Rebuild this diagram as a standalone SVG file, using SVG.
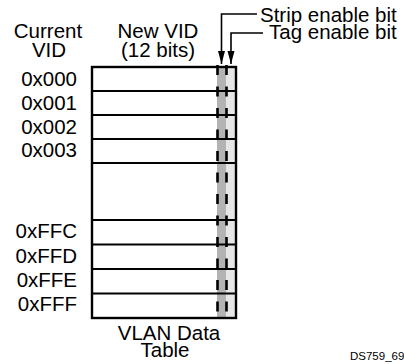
<svg xmlns="http://www.w3.org/2000/svg" width="404" height="364" viewBox="0 0 404 364">
<defs>
<style>
text{font-family:"Liberation Sans",Arial,sans-serif;font-size:20.5px;fill:#000}
.lbl{text-anchor:end}
.mid{text-anchor:middle}
.conn{fill:none;stroke:#000;stroke-width:1.6}
.dash{stroke:#000;stroke-width:2.6;stroke-dasharray:10 11.5}
</style>
<marker id="ah" markerWidth="14" markerHeight="8" refX="13" refY="4" orient="auto" markerUnits="userSpaceOnUse" viewBox="0 0 14 8">
<path d="M0,0.5 L13,4 L0,7.5 Z" fill="#000"/>
</marker>
</defs>
<g id="headers">
<text class="mid" x="48" y="38">Current</text>
<text class="mid" x="49" y="57">VID</text>
<text class="mid" x="158" y="38">New VID</text>
<text class="mid" x="158" y="57">(12 bits)</text>
</g>
<g id="table">
<rect x="92" y="67" width="144" height="251" fill="#fff"/>
<rect x="217" y="67" width="9" height="251" fill="#b3b3b3"/>
<rect x="226" y="67" width="9" height="251" fill="#e6e6e6"/>
<g stroke="#000" stroke-width="2">
<line x1="92" y1="91" x2="236" y2="91"/>
<line x1="92" y1="115" x2="236" y2="115"/>
<line x1="92" y1="139" x2="236" y2="139"/>
<line x1="92" y1="163" x2="236" y2="163"/>
<line x1="92" y1="220" x2="236" y2="220"/>
<line x1="92" y1="244.5" x2="236" y2="244.5"/>
<line x1="92" y1="269" x2="236" y2="269"/>
<line x1="92" y1="293.5" x2="236" y2="293.5"/>
</g>
<line class="dash" x1="217.5" y1="65" x2="217.5" y2="312"/>
<line class="dash" x1="226.5" y1="65" x2="226.5" y2="312"/>
<rect x="92" y="67" width="144" height="251" fill="none" stroke="#000" stroke-width="2.4"/>
</g>
<g id="row-labels">
<text class="lbl" x="77" y="86">0x000</text>
<text class="lbl" x="77" y="110">0x001</text>
<text class="lbl" x="77" y="134">0x002</text>
<text class="lbl" x="77" y="157">0x003</text>
<text class="lbl" x="77" y="238">0xFFC</text>
<text class="lbl" x="77" y="263">0xFFD</text>
<text class="lbl" x="77" y="287">0xFFE</text>
<text class="lbl" x="77" y="311">0xFFF</text>
</g>
<g id="strip-bit">
<text x="260" y="22">Strip enable bit</text>
</g>
<g id="tag-bit">
<text x="269" y="39">Tag enable bit</text>
</g>
<g id="connectors">
<path class="conn" d="M257,14 H221.5 V64" marker-end="url(#ah)"/>
<path class="conn" d="M263,33 H231 V64" marker-end="url(#ah)"/>
</g>
<g id="caption">
<text class="mid" x="169" y="340">VLAN Data</text>
<text class="mid" x="165" y="357">Table</text>
<text x="350" y="360" style="font-size:11.5px">DS759_69</text>
</g>
</svg>
